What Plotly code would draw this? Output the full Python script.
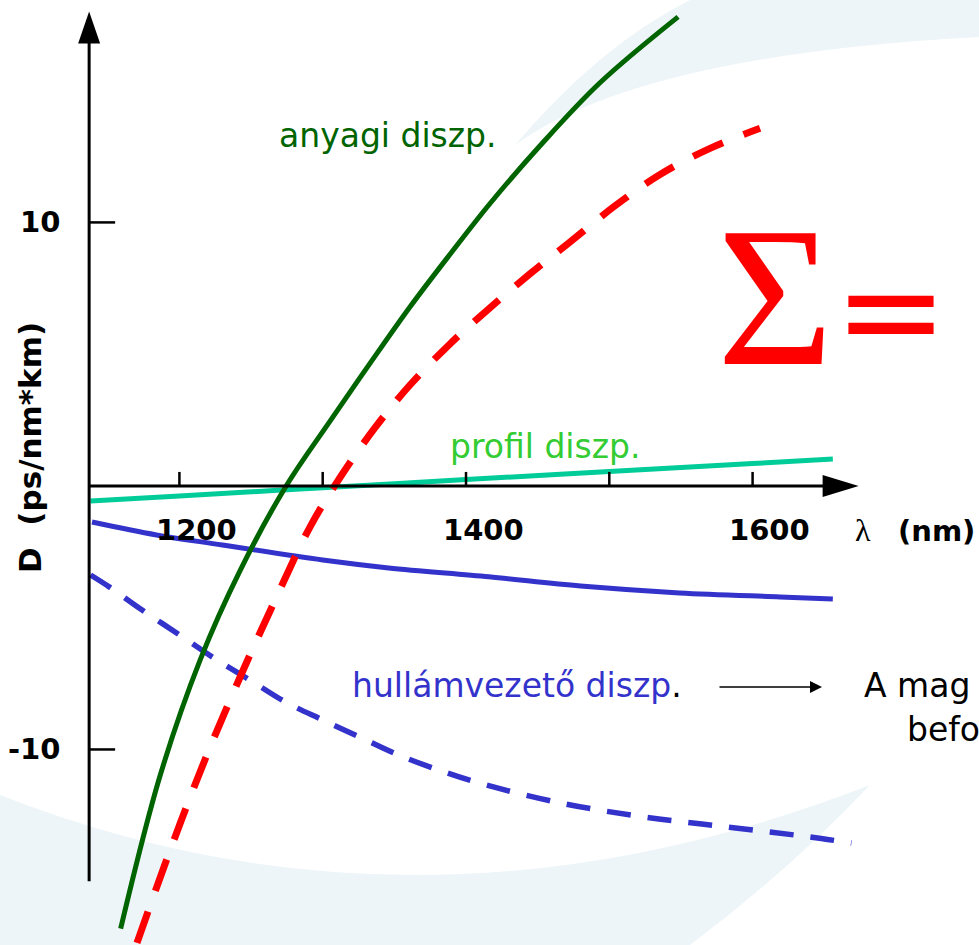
import plotly.graph_objects as go

# ---------------- data ----------------
lambda_anyagi = [1159, 1186.5, 1214.5, 1242, 1274.5, 1305, 1333, 1361, 1389, 1416.5, 1451.5, 1493.5, 1548]
D_anyagi = [-16.8, -11.0, -6.6, -3.25, 0.0, 2.45, 4.65, 6.8, 8.8, 10.7, 12.9, 15.3, 17.8]

lambda_ossz = [1170.4, 1193.4, 1217.9, 1242.3, 1266.7, 1291.1, 1312.1, 1336.5, 1360.9, 1388.8, 1416.7,
               1444.7, 1472.6, 1504.0, 1535.4, 1570.3, 1605.2]
D_ossz = [-17.34, -13.84, -10.38, -7.26, -4.34, -1.56, 0.32, 2.21, 3.83, 5.39, 6.76,
          8.05, 9.26, 10.63, 11.82, 12.81, 13.57]

lambda_profil = [1138, 1200, 1300, 1400, 1500, 1600, 1656]
D_profil = [-0.57, -0.38, -0.07, 0.24, 0.55, 0.85, 1.02]

lambda_hullam = [1139, 1184, 1230, 1300, 1346, 1416, 1480, 1549, 1619, 1656]
D_hullam = [-1.37, -1.86, -2.24, -2.81, -3.11, -3.45, -3.80, -4.06, -4.21, -4.29]

lambda_hullam2 = [1138, 1151, 1174, 1200, 1224, 1249, 1274, 1300, 1327, 1353, 1381, 1409, 1466, 1524, 1582,
                  1640, 1669]
D_hullam2 = [-3.38, -3.83, -4.71, -5.65, -6.53, -7.36, -8.20, -8.88, -9.56, -10.21, -10.78, -11.27, -12.03,
             -12.56, -12.94, -13.32, -13.55]

x_ticks = [1200, 1300, 1400, 1500, 1600]
x_tick_labels = ["1200", "", "1400", "", "1600"]
y_ticks = [10, -10]
y_tick_labels = ["10", "-10"]

axis_x_start = 1137
axis_x_end = 1674
axis_y_start = -15
axis_y_end = 18

# ---------------- layout helpers ----------------
W, H = 979, 945
XR = (1074.8, 1758.0)
YR = (-17.42, 18.44)


def px_x(px):
    return XR[0] + px / W * (XR[1] - XR[0])


def px_y(py):
    return YR[1] - py / H * (YR[1] - YR[0])


def path_from_px(cmds):
    out = []
    for c in cmds:
        if isinstance(c, str):
            out.append(c)
        else:
            out.append(f"{px_x(c[0]):.3f},{px_y(c[1]):.4f}")
    return " ".join(out)


fig = go.Figure()

# ---------------- curves ----------------
fig.add_trace(go.Scatter(x=lambda_profil, y=D_profil, mode="lines",
                         line=dict(color="#00cc99", width=5, shape="spline"), hoverinfo="skip"))
fig.add_trace(go.Scatter(x=lambda_hullam, y=D_hullam, mode="lines",
                         line=dict(color="#3333cc", width=5, shape="spline"), hoverinfo="skip"))
fig.add_trace(go.Scatter(x=lambda_hullam2, y=D_hullam2, mode="lines",
                         line=dict(color="#3333cc", width=5.5, shape="spline", dash="24px,17px"),
                         hoverinfo="skip"))
fig.add_trace(go.Scatter(x=lambda_anyagi, y=D_anyagi, mode="lines",
                         line=dict(color="#006400", width=5, shape="spline"), hoverinfo="skip"))
fig.add_trace(go.Scatter(x=lambda_ossz, y=D_ossz, mode="lines",
                         line=dict(color="#ff0000", width=7, shape="spline", dash="33px,22px"),
                         hoverinfo="skip"))

shapes = []
bg = "#eef5f8"
# background swooshes
shapes.append(dict(type="path", layer="below", line=dict(width=0), fillcolor=bg,
                   path=path_from_px(["M", (515, 145), "Q", (640, 55), (979, 37), "L", (979, 0), "L", (690, 0),
                                      "Q", (600, 45), (515, 145), "Z"])))
shapes.append(dict(type="path", layer="below", line=dict(width=0), fillcolor=bg,
                   path=path_from_px(["M", (0, 795), "Q", (420, 960), (870, 785), "Q", (790, 870), (690, 945),
                                      "L", (0, 945), "Z"])))

# axes
shapes.append(dict(type="line", x0=axis_x_start, x1=axis_x_start, y0=axis_y_start, y1=axis_y_end - 0.5,
                   line=dict(color="black", width=3)))
shapes.append(dict(type="line", x0=axis_x_start, x1=axis_x_end - 5, y0=0, y1=0,
                   line=dict(color="black", width=3)))
shapes.append(dict(type="path", xsizemode="pixel", ysizemode="pixel", xanchor=axis_x_start, yanchor=axis_y_end,
                   path="M 0 0 L -11 -32 L 11 -32 Z", fillcolor="black", line=dict(width=0)))
shapes.append(dict(type="path", xsizemode="pixel", ysizemode="pixel", xanchor=axis_x_end, yanchor=0,
                   path="M 0 0 L -36 11 L -36 -11 Z", fillcolor="black", line=dict(width=0)))
for t in x_ticks:
    shapes.append(dict(type="line", ysizemode="pixel", yanchor=0, y0=0, y1=14, x0=t, x1=t,
                       line=dict(color="black", width=2.5)))
for t in y_ticks:
    shapes.append(dict(type="line", xsizemode="pixel", xanchor=axis_x_start, x0=0, x1=26, y0=t, y1=t,
                       line=dict(color="black", width=2.5)))

ann = []
bold = dict(family="DejaVu Sans, Verdana, sans-serif", size=29, color="black")
for t, lab in zip(x_ticks, x_tick_labels):
    if lab:
        ann.append(dict(x=t, y=0, text=f"<b>{lab}</b>", showarrow=False, xshift=17, yshift=-44,
                        font=bold, xanchor="center", yanchor="middle"))
for t, lab in zip(y_ticks, y_tick_labels):
    ann.append(dict(x=axis_x_start, y=t, text=f"<b>{lab}</b>", showarrow=False, xshift=-27,
                    font=bold, xanchor="right", yanchor="middle"))

ann.append(dict(x=px_x(30), y=px_y(448), text="<b>D  (ps/nm*km)</b>", textangle=-90, showarrow=False,
                font=dict(family="DejaVu Sans, Verdana, sans-serif", size=31, color="black"),
                xanchor="center", yanchor="middle"))
ann.append(dict(x=px_x(863), y=px_y(530), text="λ", showarrow=False,
                font=dict(family="Liberation Serif, serif", size=32, color="black"),
                xanchor="center", yanchor="middle"))
ann.append(dict(x=px_x(936), y=px_y(531), text="<b>(nm)</b>", showarrow=False, font=bold,
                xanchor="center", yanchor="middle"))

reg = "DejaVu Sans, Verdana, sans-serif"
ann.append(dict(x=px_x(388), y=px_y(135), text="anyagi diszp.", showarrow=False,
                font=dict(family=reg, size=33, color="#006400"), xanchor="center", yanchor="middle"))
ann.append(dict(x=px_x(545), y=px_y(446), text="profil diszp.", showarrow=False,
                font=dict(family=reg, size=33, color="#33cc33"), xanchor="center", yanchor="middle"))
ann.append(dict(x=px_x(350), y=px_y(685),
                text="hullámvezető diszp<span style='color:black'>.</span>", showarrow=False,
                font=dict(family=reg, size=33, color="#3333cc"), xanchor="left", yanchor="middle"))
ann.append(dict(x=px_x(822), y=px_y(687), ax=px_x(718), ay=px_y(687), axref="x", ayref="y", text="",
                showarrow=True, arrowhead=2, arrowsize=1.6, arrowwidth=1.5, arrowcolor="black", standoff=0))
ann.append(dict(x=px_x(862), y=px_y(685), text="A mag", showarrow=False,
                font=dict(family=reg, size=33, color="black"), xanchor="left", yanchor="middle"))
ann.append(dict(x=px_x(905), y=px_y(729), text="befo", showarrow=False,
                font=dict(family=reg, size=33, color="black"), xanchor="left", yanchor="middle"))

ann.append(dict(x=px_x(775), y=px_y(296), text="Σ", showarrow=False,
                font=dict(family="Liberation Serif, Times New Roman, serif", size=200, color="#ff0000"),
                xanchor="center", yanchor="middle"))
ann.append(dict(x=px_x(891), y=px_y(310), text="=", showarrow=False,
                font=dict(family="DejaVu Sans, sans-serif", size=136, color="#ff0000"),
                xanchor="center", yanchor="middle"))

fig.update_layout(
    width=W, height=H, margin=dict(l=0, r=0, t=0, b=0, pad=0),
    paper_bgcolor="white", plot_bgcolor="white", showlegend=False,
    xaxis=dict(range=list(XR), visible=False, fixedrange=True),
    yaxis=dict(range=list(YR), visible=False, fixedrange=True),
    shapes=shapes, annotations=ann,
)

fig.write_html("out.html", config={"displayModeBar": False},
               post_script="document.body.style.margin='0px';document.body.style.overflow='hidden';")
